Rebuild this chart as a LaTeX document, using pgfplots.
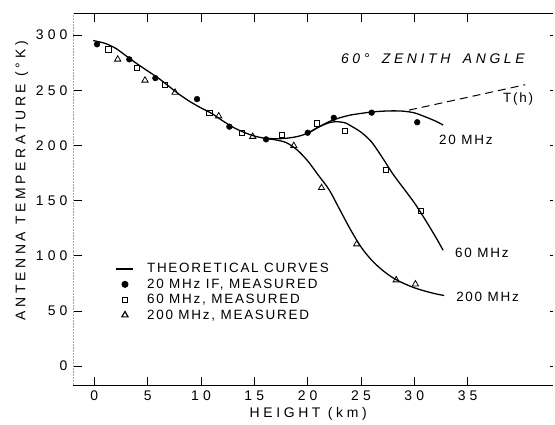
\documentclass[border=0pt]{standalone}
\usepackage{fontspec}
\setmainfont{Liberation Sans}[LetterSpace=13]
\newfontfamily\widefont{Liberation Sans}[LetterSpace=26]
\newfontfamily\tickfont{Liberation Sans}[LetterSpace=30]
\usepackage{pgfplots}
\pgfplotsset{compat=1.18}
\newcommand\fs{\fontsize{13.5}{15}\selectfont}
\newcommand\fl{\fontsize{14}{16}\selectfont\widefont}
\newcommand\ft{\fontsize{14}{16}\selectfont\tickfont}

\begin{document}
\begin{tikzpicture}
\begin{axis}[
 scale only axis,width=480bp,height=373bp,
 xmin=-2,xmax=43,ymin=-18,ymax=320,
 xtick={0,5,...,35},ytick={0,50,...,300},
 ytick pos=left,
 extra y ticks={0,50,...,300},extra y tick labels={},
 extra y tick style={ytick pos=right,major tick length=3bp},
 major tick length=9bp,
 tick style={black,line width=0.8pt},
 tick label style={font=\ft},
 yticklabel style={xshift=-2bp},
 xticklabel style={yshift=-1bp},
 /pgf/number format/assume math mode=true,
 axis line style={draw=none},
 xlabel={HEIGHT (km)},
 ylabel={ANTENNA TEMPERATURE (°K)},
 label style={font=\fl},
 xlabel style={at={(axis description cs:0.49,-0.075)},anchor=center},
 ylabel style={at={(axis description cs:-0.107,0.55)},anchor=center},
 legend style={draw=none,fill=none,font=\fs,at={(axis cs:2.0,95)},anchor=north west,
   row sep=0.5bp,column sep=11bp,inner sep=0pt,nodes={inner sep=2bp,font=\fs}},
 legend cell align=left,
 legend image post style={line width=1.2pt},
]
\draw[line width=1.2pt] (rel axis cs:0,0) -- (rel axis cs:1,0);
\draw[line width=0.9pt] (rel axis cs:0,1) -- (rel axis cs:1,1);
\draw[gray!70,line width=0.5pt,densely dotted] (rel axis cs:0,0) -- (rel axis cs:0,1);

% theoretical curves
\addplot[black,line width=1.3pt,smooth,no marks] coordinates {
 (-0.1,295) (1,292.5) (2,288) (3,281) (4,274) (5,267.5) (6,261) (7,253.5)
 (8,246) (9,239.5) (10,234) (11,229) (12,222.5) (13,216.5) (14,212)
 (15,208.5) (16,206.5) (17,205.8)};
\addlegendentry{THEORETICAL CURVES}
\addplot[black,line width=1.3pt,smooth,no marks,forget plot] coordinates {
 (16,206.5) (17,206) (18,206.5) (19,208) (20,211) (21,216.5) (22,221.5)
 (23,225) (24,227.5) (25,229) (26,230.3) (27,231) (28,231.3) (29,231)
 (30,229.5) (31,226) (32,222) (32.7,218.5)};
\addplot[black,line width=1.3pt,smooth,no marks,forget plot] coordinates {
 (20,211) (21,216.5) (22,220.5) (22.7,221.5) (23.5,220.5) (24,218) (25,212)
 (26,203) (27,189) (28,174) (29,161) (30,148) (31,133) (32,117) (32.7,105)};
\addplot[black,line width=1.3pt,smooth,no marks,forget plot] coordinates {
 (16,206.5) (17,205) (18,202.5) (19,196) (20,186) (21,173) (22,160)
 (23,142) (24,124) (25,108) (26,96) (27,87) (28,80) (29,75) (30,71)
 (31,68) (32,65.5) (32.8,64)};
\addplot[black,line width=1pt,dash pattern=on 8bp off 5bp,no marks,forget plot]
 coordinates {(29.5,232) (40.4,255)};

% measurements
\addplot[only marks,mark=*,mark size=2.9bp,black] coordinates {
 (0.25,291.6) (3.28,278) (5.72,261) (9.63,242) (12.66,217) (16.1,205.5)
 (20.0,211.5) (22.45,225) (26.0,229.7) (30.27,221)};
\addlegendentry{20 MHz IF, MEASURED}
\addplot[only marks,mark=square,mark size=2.6bp,black,line width=0.8pt] coordinates {
 (1.31,287) (4.0,270) (6.63,255) (10.79,229.7) (13.85,211) (17.6,209.4)
 (20.9,220) (23.5,213) (27.3,177.7) (30.6,141)};
\addlegendentry{60 MHz, MEASURED}
\addplot[only marks,mark=triangle,mark size=3.6bp,black,line width=0.8pt] coordinates {
 (2.19,278) (4.75,259) (7.57,248) (11.66,226.6) (14.85,208) (18.7,199.7)
 (21.3,161.6) (24.6,110.6) (28.3,78) (30.1,74.3)};
\addlegendentry{200 MHz, MEASURED}

\node[anchor=west,font=\fontsize{14}{16}\selectfont\widefont\itshape] at (axis cs:22.8,279)
 {60°\hspace{5bp} ZENITH\hspace{5bp} ANGLE};
\node[anchor=west,font=\fs] at (axis cs:38.0,242) {T(h)};
\node[anchor=west,font=\fs] at (axis cs:32.0,205) {20 MHz};
\node[anchor=west,font=\fs] at (axis cs:33.5,103) {60 MHz};
\node[anchor=west,font=\fs] at (axis cs:33.6,62.5) {200 MHz};
\end{axis}
\path ([shift={(-73bp,-39bp)}]current axis.south west) rectangle ([shift={(2bp,13bp)}]current axis.north east);
\end{tikzpicture}
\end{document}
